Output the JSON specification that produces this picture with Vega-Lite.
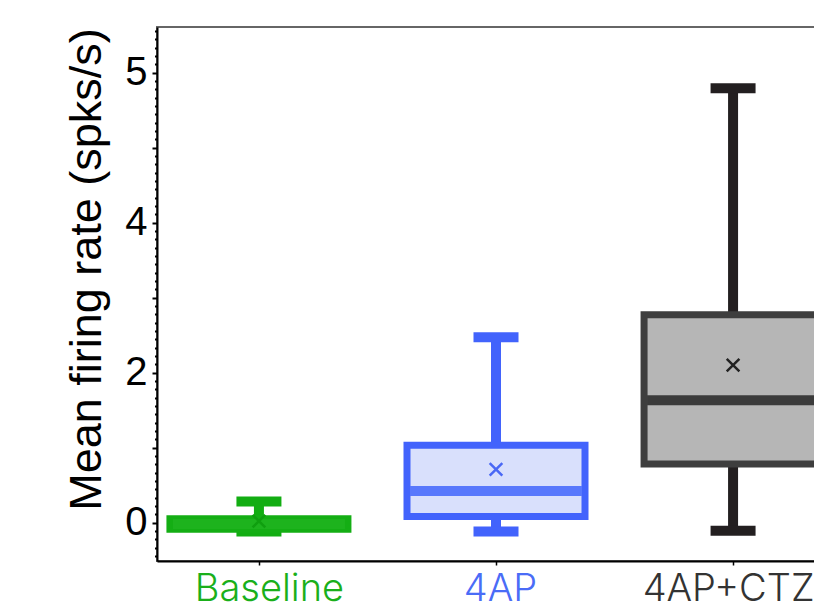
{
  "$schema": "https://vega.github.io/schema/vega-lite/v6.json",
  "autosize": "none",
  "padding": {"left": 157, "top": 27, "right": 0, "bottom": 48},
  "width": 678,
  "height": 534,
  "background": "white",
  "config": {"view": {"stroke": "#666666", "strokeWidth": 2}},
  "data": {
    "values": [
      {"group": "Baseline", "min": -0.12, "q1": -0.09, "median": -0.02, "q3": 0.05, "max": 0.28, "mean": 0.02},
      {"group": "4AP", "min": -0.12, "q1": 0.08, "median": 0.42, "q3": 1.03, "max": 2.47, "mean": 0.71},
      {"group": "4AP+CTZ", "min": -0.11, "q1": 0.78, "median": 1.63, "q3": 2.77, "max": 5.79, "mean": 2.10}
    ]
  },
  "encoding": {
    "x": {
      "field": "group",
      "type": "nominal",
      "sort": ["Baseline", "4AP", "4AP+CTZ"],
      "scale": {"type": "point", "padding": 0.43},
      "axis": {
        "title": null,
        "labelAngle": 0,
        "labelFont": "Inter",
        "labelFontSize": 38,
        "labelFontWeight": 300,
        "labelPadding": 5,
        "labelColor": {
          "condition": [
            {"test": "datum.value === 'Baseline'", "value": "#1aaf1a"},
            {"test": "datum.value === '4AP'", "value": "#4a6cf7"}
          ],
          "value": "#333333"
        },
        "labelOffset": {
          "condition": [
            {"test": "datum.value === 'Baseline'", "value": 10},
            {"test": "datum.value === '4AP'", "value": 4}
          ],
          "value": -5
        },
        "domainColor": "black",
        "domainWidth": 2,
        "tickColor": "black",
        "tickSize": 4,
        "tickWidth": 1.5,
        "grid": false
      }
    }
  },
  "resolve": {"scale": {"color": "independent", "fill": "independent", "stroke": "independent"}},
  "layer": [
    {
      "mark": {"type": "rule", "strokeWidth": 10},
      "encoding": {
        "y": {
          "field": "min",
          "type": "quantitative",
          "scale": {"domain": [-0.512, 6.608], "nice": false, "zero": false},
          "axis": {
            "title": "Mean firing rate (spks/s)",
            "titleFont": "Liberation Sans",
            "titleFontSize": 45,
            "titleFontWeight": "normal",
            "titleColor": "black",
            "titleAngle": -90,
            "titleX": -57,
            "titleY": 242,
            "titleAlign": "center",
            "titleBaseline": "alphabetic",
            "tickCount": 200,
            "values": [-0.444444, -0.333333, -0.222222, -0.111111, 0, 0.111111, 0.222222, 0.333333, 0.444444, 0.555556, 0.666667, 0.777778, 0.888889, 1, 1.111111, 1.222222, 1.333333, 1.444444, 1.555556, 1.666667, 1.777778, 1.888889, 2, 2.111111, 2.222222, 2.333333, 2.444444, 2.555556, 2.666667, 2.777778, 2.888889, 3, 3.111111, 3.222222, 3.333333, 3.444444, 3.555556, 3.666667, 3.777778, 3.888889, 4, 4.111111, 4.222222, 4.333333, 4.444444, 4.555556, 4.666667, 4.777778, 4.888889, 5, 5.111111, 5.222222, 5.333333, 5.444444, 5.555556, 5.666667, 5.777778, 5.888889, 6, 6.111111, 6.222222, 6.333333, 6.444444, 6.555556],
            "labelExpr": "abs(datum.value - round(datum.value)) < 0.001 && round(datum.value) % 2 == 0 ? (round(datum.value) == 6 ? '5' : '' + round(datum.value)) : ''",
            "labelFont": "Liberation Sans",
            "labelFontSize": 40,
            "labelColor": "black",
            "labelPadding": 5,
            "labelOverlap": false,
            "labelBound": false,
            "tickSize": {"condition": {"test": "abs(datum.value - round(datum.value)) < 0.001", "value": 5}, "value": 2.5},
            "tickWidth": 2,
            "tickColor": "black",
            "domainColor": "black",
            "domainWidth": 2,
            "grid": false
          }
        },
        "y2": {"field": "max"},
        "color": {"field": "group", "type": "nominal", "scale": {"domain": ["Baseline", "4AP", "4AP+CTZ"], "range": ["#12ad12", "#4263fc", "#231f20"]}, "legend": null}
      }
    },
    {
      "mark": {"type": "tick", "size": 45, "thickness": 10, "opacity": 1},
      "encoding": {
        "y": {"field": "min", "type": "quantitative"},
        "color": {"field": "group", "type": "nominal", "scale": {"domain": ["Baseline", "4AP", "4AP+CTZ"], "range": ["#12ad12", "#4263fc", "#231f20"]}, "legend": null}
      }
    },
    {
      "mark": {"type": "tick", "size": 45, "thickness": 10, "opacity": 1},
      "encoding": {
        "y": {"field": "max", "type": "quantitative"},
        "color": {"field": "group", "type": "nominal", "scale": {"domain": ["Baseline", "4AP", "4AP+CTZ"], "range": ["#12ad12", "#4263fc", "#231f20"]}, "legend": null}
      }
    },
    {
      "mark": {"type": "bar", "width": 178, "strokeWidth": 7, "opacity": 1},
      "encoding": {
        "y": {"field": "q1", "type": "quantitative"},
        "y2": {"field": "q3"},
        "fill": {"field": "group", "type": "nominal", "scale": {"domain": ["Baseline", "4AP", "4AP+CTZ"], "range": ["#1db31d", "#d9e0fc", "#b6b6b6"]}, "legend": null},
        "stroke": {"field": "group", "type": "nominal", "scale": {"domain": ["Baseline", "4AP", "4AP+CTZ"], "range": ["#14ae14", "#4263fc", "#3e3e3e"]}, "legend": null}
      }
    },
    {
      "mark": {"type": "tick", "size": 172, "thickness": 10, "opacity": 1},
      "encoding": {
        "y": {"field": "median", "type": "quantitative"},
        "color": {"field": "group", "type": "nominal", "scale": {"domain": ["Baseline", "4AP", "4AP+CTZ"], "range": ["#1db31d", "#5878fc", "#3b3b3b"]}, "legend": null}
      }
    },
    {
      "mark": {"type": "point", "shape": "M-1,-1L1,1M-1,1L1,-1", "filled": false, "strokeWidth": 2.5, "size": 160, "opacity": 1},
      "encoding": {
        "y": {"field": "mean", "type": "quantitative"},
        "color": {"field": "group", "type": "nominal", "scale": {"domain": ["Baseline", "4AP", "4AP+CTZ"], "range": ["#0f9f0f", "#4a68f5", "#222222"]}, "legend": null}
      }
    }
  ]
}
